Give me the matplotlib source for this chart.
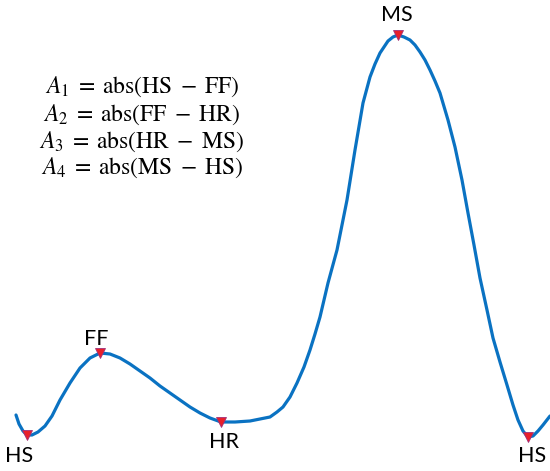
import matplotlib.pyplot as plt

# curve (x right, y down, pixel units)
curve_x = [16, 19, 23, 27, 32, 38, 45, 52, 60, 70, 80, 90, 100, 110, 120, 130, 140, 150,
           160, 170, 180, 190, 200, 210, 221, 235, 250, 260, 270, 277, 283, 290, 297, 304,
           310, 315, 320, 328, 337, 347, 355, 363, 370, 375, 380, 388, 393, 398, 404, 410,
           415, 420, 425, 430, 435, 440, 448, 455, 462, 468, 474, 480, 487, 493, 500, 507,
           513, 518, 523, 528, 533, 538, 543, 550]
curve_y = [415, 424, 431, 435, 435, 432, 426, 416, 400, 383, 368, 358, 353, 354, 358, 364, 371, 378,
           386, 393, 400, 407, 413, 418, 422, 422, 421, 419, 417, 412, 407, 397, 383, 367,
           350, 334, 317, 283, 250, 200, 150, 103, 77, 64, 53, 41, 37, 35, 37, 40,
           45, 52, 60, 70, 81, 93, 120, 147, 180, 213, 245, 278, 310, 338, 362, 385,
           405, 420, 431, 437, 436, 431, 425, 416]

# key points
pt_names = ["HS", "FF", "HR", "MS", "HS"]
pt_x = [27, 100, 221, 398, 528]
pt_y = [435, 353, 422, 35, 437]
lab_x = [19, 96, 224, 397, 532]
lab_y = [456, 339, 442, 15, 456]

equations = [r"$A_1\;=\;\mathrm{abs(HS\;-\;FF)}$",
             r"$A_2\;=\;\mathrm{abs(FF\;-\;HR)}$",
             r"$A_3\;=\;\mathrm{abs(HR\;-\;MS)}$",
             r"$A_4\;=\;\mathrm{abs(MS\;-\;HS)}$"]
eq_y = [87, 115, 142, 168]

plt.rcParams['mathtext.fontset'] = 'stix'

fig = plt.figure(figsize=(5.5, 4.71), dpi=100)
ax = fig.add_axes([0, 0, 1, 1])
ax.set_xlim(0, 550)
ax.set_ylim(471, 0)
ax.axis('off')

ax.plot(curve_x, curve_y, color='#0a72c2', lw=2.3, solid_capstyle='round', solid_joinstyle='round')
ax.plot(pt_x, pt_y, 'v', color='#e8202a', markeredgecolor='#a0307a', markeredgewidth=0.6, markersize=7)

for name, x, y in zip(pt_names, lab_x, lab_y):
    ax.text(x, y, name, ha='center', va='center', fontsize=15.5, family='Lato', color='black')

for eq, y in zip(equations, eq_y):
    ax.text(142, y, eq, ha='center', va='center', fontsize=17, color='black')

fig.savefig('out.png', dpi=100)
